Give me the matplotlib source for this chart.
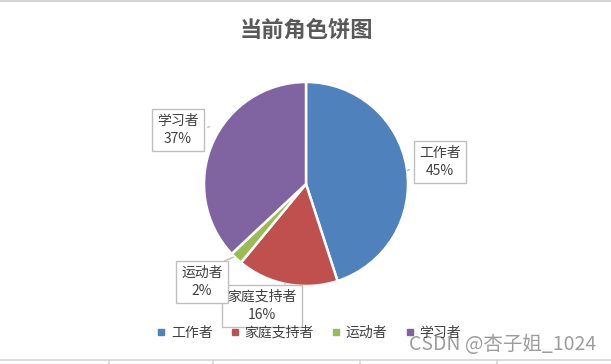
import matplotlib
matplotlib.use("Agg")
import matplotlib.pyplot as plt
from matplotlib.lines import Line2D

plt.rcParams['font.family'] = ['Noto Sans CJK SC', 'DejaVu Sans']

title = "当前角色饼图"
categories = ["工作者", "家庭支持者", "运动者", "学习者"]
values = [45, 16, 2, 37]
colors = ["#4F81BD", "#C0504D", "#9BBB59", "#8064A2"]
watermark = "CSDN @杏子姐_1024"

W, H = 611, 364
fig = plt.figure(figsize=(W / 100, H / 100), dpi=100)
ax = fig.add_axes([0, 0, 1, 1])
ax.set_xlim(0, W)
ax.set_ylim(0, H)
ax.set_aspect('equal')
ax.axis('off')

def py(y):
    return H - y

# sheet grid lines (background decoration)
grid_c = "#D4D4D4"
ax.plot([0, W], [py(1), py(1)], color=grid_c, lw=1.5)
ax.plot([0, W], [py(360), py(360)], color=grid_c, lw=1.2)
for gx in [109, 213, 360, 497]:
    ax.plot([gx, gx], [py(360), py(364)], color=grid_c, lw=1.2)

# pie
cx, cy, r = 306, 184, 102
wedges, _ = ax.pie(values, colors=colors, startangle=90, counterclock=False,
                   center=(cx, py(cy)), radius=r, frame=True,
                   wedgeprops=dict(edgecolor='white', linewidth=1.8))
ax.set_xlim(0, W)
ax.set_ylim(0, H)
ax.axis('off')

# title
ax.text(306, py(30), title, ha='center', va='center', fontsize=16,
        fontweight='bold', color='#595959')

# data labels
total = sum(values)
label_pos = [(440, 162), (262, 306), (202, 282), (178, 130)]
pointer = [((412, 168), (405, 172)), ((285, 287), (285, 283)),
           ((222, 262), (236, 256)), ((205, 128), (212, 126))]
for cat, v, (lx, ly), (p0, p1) in zip(categories, values, label_pos, pointer):
    ax.annotate("", xy=(p1[0], py(p1[1])), xytext=(p0[0], py(p0[1])),
                arrowprops=dict(arrowstyle='-', color='#BFBFBF', lw=1))
    ax.text(lx, py(ly), f"{cat}\n{round(v / total * 100)}%", ha='center',
            va='center', fontsize=10, color='#404040', linespacing=1.45,
            bbox=dict(boxstyle='square,pad=0.35', facecolor='white',
                      edgecolor='#BFBFBF', linewidth=1))

# legend
handles = [Line2D([0], [0], marker='s', linestyle='none', markersize=5,
                  markerfacecolor=c, markeredgecolor=c) for c in colors]
fig.legend(handles, categories, loc='center', ncol=4,
           bbox_to_anchor=(309 / W, 1 - 333 / H), frameon=False,
           fontsize=10, labelcolor='#404040', handlelength=0.6,
           handletextpad=0.4, columnspacing=1.3)

# watermark
ax.text(596, py(345), watermark, ha='right', va='center', fontsize=14,
        color='#8C8C8C', alpha=0.85)

fig.savefig("out.png", dpi=100)
